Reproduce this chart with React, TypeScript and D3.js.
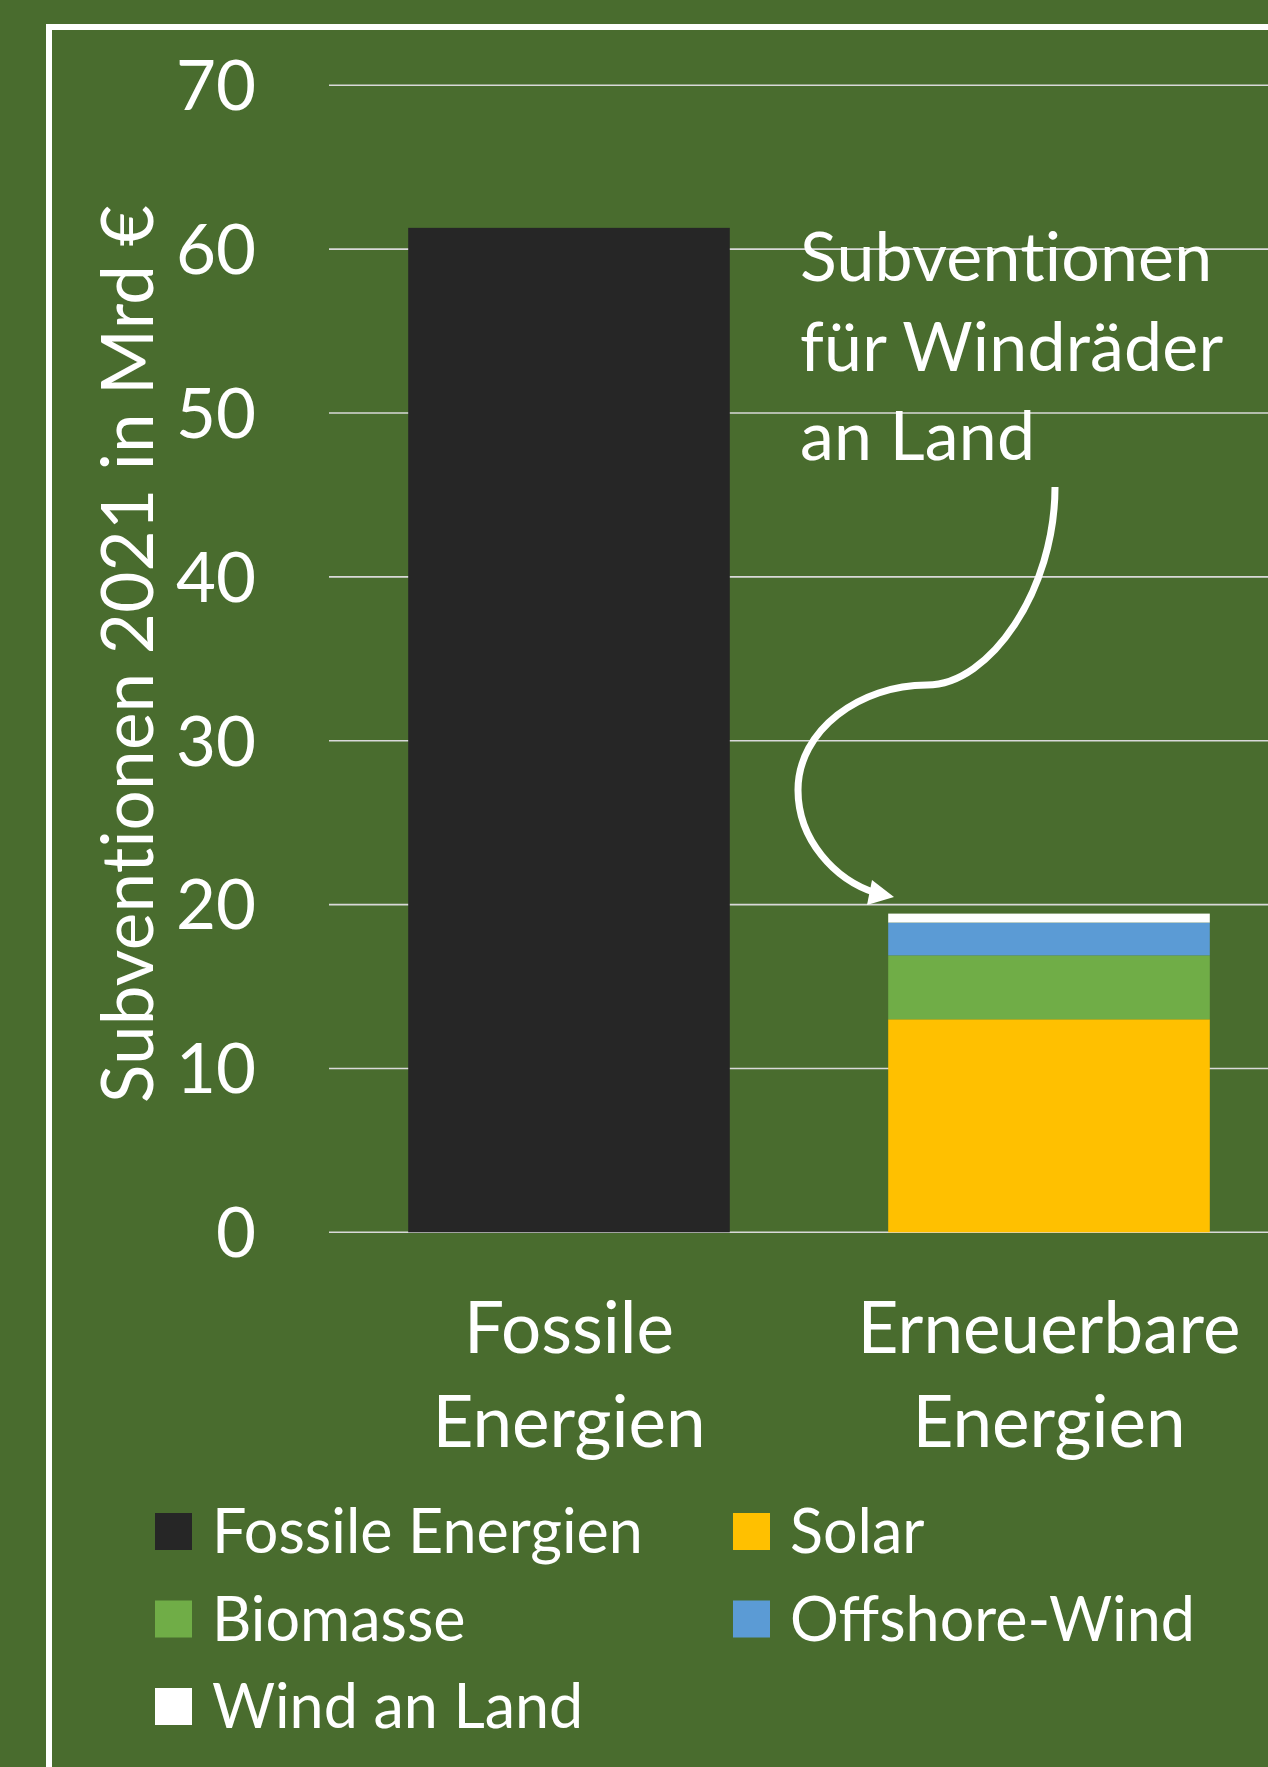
import React from "react";
import * as d3 from "d3";

const categories = ["Fossile Energien", "Erneuerbare Energien"];
const categoryLines = [["Fossile", "Energien"], ["Erneuerbare", "Energien"]];
const seriesNames = ["Fossile Energien", "Solar", "Biomasse", "Offshore-Wind", "Wind an Land"];
const fossilValues = [61.3, 0];
const solarValues = [0, 13.0];
const biomasseValues = [0, 3.9];
const offshoreValues = [0, 2.0];
const windLandValues = [0, 0.55];
const seriesColors = ["#262626", "#FFC000", "#70AD47", "#5B9BD5", "#FFFFFF"];
const yTicks = [0, 10, 20, 30, 40, 50, 60, 70];
const yTitle = "Subventionen 2021 in Mrd €";
const annotationLines = ["Subventionen", "für Windräder", "an Land"];

const W = 1268;
const H = 1767;
const FONT = "Lato, 'Open Sans', sans-serif";
const BG = "#496C2E";
const noLig: any = {
  fontVariantLigatures: "none",
  fontFeatureSettings: '"liga" 0, "clig" 0, "dlig" 0',
};

export default function App() {
  const seriesValues = [fossilValues, solarValues, biomasseValues, offshoreValues, windLandValues];
  const rows = categories.map((c, i) => {
    const r: any = { category: c };
    seriesNames.forEach((s, j) => (r[s] = seriesValues[j][i]));
    return r;
  });
  const stacked = d3.stack().keys(seriesNames)(rows);

  const y = d3.scaleLinear().domain([0, 70]).range([1232.3, 85.3]);
  const x = d3
    .scaleBand()
    .domain(categories)
    .range([329, 1289])
    .paddingInner(0.33)
    .paddingOuter(0.165);

  const arrowPath =
    "M1055,487 C1055,590 990,685 927,685 C860,685 798,730 798,790 C798,840 835,880 876,893";

  const legendItems = [
    { name: seriesNames[0], color: seriesColors[0], col: 0, row: 0 },
    { name: seriesNames[1], color: seriesColors[1], col: 1, row: 0 },
    { name: seriesNames[2], color: seriesColors[2], col: 0, row: 1 },
    { name: seriesNames[3], color: seriesColors[3], col: 1, row: 1 },
    { name: seriesNames[4], color: seriesColors[4], col: 0, row: 2 },
  ];
  const legendColX = [155, 733];
  const legendRowY = [1513, 1600.5, 1688];

  return (
    <svg
      width={W}
      height={H}
      style={{ position: "absolute", left: 0, top: 0, display: "block" }}
      fontFamily={FONT}
    >
      <rect x={0} y={0} width={W} height={H} fill={BG} />
      <rect x={49} y={27} width={W} height={H + 100} fill="none" stroke="#FFFFFF" strokeWidth={6} />

      {/* gridlines */}
      {yTicks.map((t) => (
        <line key={t} x1={329} x2={W} y1={y(t)} y2={y(t)} stroke="#D9D9D9" strokeWidth={1.6} />
      ))}
      {/* tick labels */}
      {yTicks.map((t) => (
        <text
          key={"l" + t}
          x={256}
          y={y(t)}
          dy="0.36em"
          textAnchor="end"
          fill="#FFFFFF"
          fontSize={69}
        >
          {t}
        </text>
      ))}

      {/* axis title */}
      <text
        transform={`translate(153,654) rotate(-90)`}
        textAnchor="middle"
        fill="#FFFFFF"
        fontSize={71}
        style={noLig}
        letterSpacing={0.2}
      >
        {yTitle}
      </text>

      {/* bars */}
      {stacked.map((s, si) =>
        s.map((d: any, di: number) => {
          const h = y(d[0]) - y(d[1]);
          if (h <= 0) return null;
          return (
            <rect
              key={si + "-" + di}
              x={x(categories[di])}
              width={x.bandwidth()}
              y={y(d[1])}
              height={h}
              fill={seriesColors[si]}
            />
          );
        })
      )}

      {/* category labels */}
      {categories.map((c, i) => (
        <text
          key={c}
          x={(x(c) as number) + x.bandwidth() / 2}
          textAnchor="middle"
          fill="#FFFFFF"
          fontSize={71}
        >
          {categoryLines[i].map((ln, k) => (
            <tspan key={k} x={(x(c) as number) + x.bandwidth() / 2} y={1353 + k * 94}>
              {ln}
            </tspan>
          ))}
        </text>
      ))}

      {/* annotation */}
      <text fill="#FFFFFF" fontSize={68} style={noLig} letterSpacing={0.2}>
        {annotationLines.map((ln, k) => (
          <tspan key={k} x={800} y={281 + k * 89.5}>
            {ln}
          </tspan>
        ))}
      </text>
      <path d={arrowPath} fill="none" stroke="#FFFFFF" strokeWidth={7} />
      <polygon points="894,897 872,880 867,905" fill="#FFFFFF" />

      {/* legend */}
      {legendItems.map((it) => (
        <g key={it.name}>
          <rect
            x={legendColX[it.col]}
            y={legendRowY[it.row]}
            width={37}
            height={37}
            fill={it.color}
          />
          <text
            x={legendColX[it.col] + 57}
            y={legendRowY[it.row] + 18.5}
            dy="0.36em"
            fill="#FFFFFF"
            fontSize={61}
          >
            {it.name}
          </text>
        </g>
      ))}
    </svg>
  );
}
